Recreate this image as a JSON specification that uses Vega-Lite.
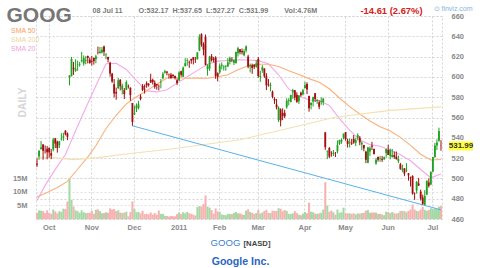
{
  "$schema": "https://vega.github.io/schema/vega-lite/v6.json",
  "width": 406,
  "height": 203,
  "autosize": {"type": "none"},
  "padding": {"left": 36, "top": 16, "right": 38, "bottom": 49},
  "config": {
    "font": "Liberation Sans",
    "view": {"stroke": "#d4d4d4", "strokeDash": [2, 2]},
    "axis": {"labelFont": "Liberation Sans", "titleFont": "Liberation Sans"},
    "legend": {"labelFont": "Liberation Sans"}
  },
  "datasets": {
    "px": [
      {"d":"2010-09-23","o":514.6,"h":519.7,"l":511.3,"c":513.5,"v":2.3},
      {"d":"2010-09-24","o":521.7,"h":527.8,"l":518.3,"c":527.3,"v":3.2},
      {"d":"2010-09-27","o":528.9,"h":536.9,"l":528.3,"c":530.4,"v":3.1},
      {"d":"2010-09-28","o":533.5,"h":533.6,"l":518.4,"c":527.2,"v":2.9},
      {"d":"2010-09-29","o":527.9,"h":532.5,"l":524.5,"c":527.7,"v":2.2},
      {"d":"2010-09-30","o":529.2,"h":531.9,"l":518.8,"c":525.8,"v":3.2},
      {"d":"2010-10-01","o":530.0,"h":530.6,"l":520.5,"c":525.6,"v":2.2},
      {"d":"2010-10-04","o":524.9,"h":528.9,"l":518.9,"c":522.4,"v":1.9},
      {"d":"2010-10-05","o":528.4,"h":540.0,"l":526.6,"c":538.2,"v":3.5},
      {"d":"2010-10-06","o":539.3,"h":539.9,"l":529.9,"c":534.4,"v":2.8},
      {"d":"2010-10-07","o":536.2,"h":537.2,"l":525.4,"c":530.0,"v":2.1},
      {"d":"2010-10-08","o":532.8,"h":537.0,"l":530.0,"c":536.4,"v":2.9},
      {"d":"2010-10-11","o":538.5,"h":544.6,"l":537.2,"c":538.8,"v":2.6},
      {"d":"2010-10-12","o":540.1,"h":545.0,"l":537.0,"c":541.4,"v":3.8},
      {"d":"2010-10-13","o":547.0,"h":547.5,"l":542.3,"c":543.3,"v":3.7},
      {"d":"2010-10-14","o":544.2,"h":545.3,"l":537.7,"c":540.9,"v":6.5},
      {"d":"2010-10-15","o":599.3,"h":601.6,"l":591.6,"c":601.5,"v":14.8},
      {"d":"2010-10-18","o":600.6,"h":619.7,"l":600.6,"c":617.7,"v":7.1},
      {"d":"2010-10-19","o":608.9,"h":614.8,"l":602.0,"c":607.8,"v":4.6},
      {"d":"2010-10-20","o":606.0,"h":617.4,"l":605.0,"c":608.0,"v":3.2},
      {"d":"2010-10-21","o":611.5,"h":616.0,"l":606.0,"c":612.0,"v":2.9},
      {"d":"2010-10-22","o":611.9,"h":614.8,"l":610.1,"c":612.5,"v":2.3},
      {"d":"2010-10-25","o":615.6,"h":624.7,"l":614.3,"c":616.5,"v":3.2},
      {"d":"2010-10-26","o":613.1,"h":621.2,"l":611.0,"c":618.6,"v":2.5},
      {"d":"2010-10-27","o":615.8,"h":620.4,"l":612.4,"c":616.5,"v":2.2},
      {"d":"2010-10-28","o":620.6,"h":621.0,"l":613.3,"c":618.6,"v":2.2},
      {"d":"2010-10-29","o":617.1,"h":619.0,"l":613.0,"c":613.7,"v":2.3},
      {"d":"2010-11-01","o":615.7,"h":620.7,"l":611.2,"c":615.0,"v":3.0},
      {"d":"2010-11-02","o":618.7,"h":619.0,"l":612.1,"c":615.6,"v":1.9},
      {"d":"2010-11-03","o":617.5,"h":621.8,"l":613.5,"c":620.2,"v":3.4},
      {"d":"2010-11-04","o":624.6,"h":629.9,"l":622.1,"c":624.3,"v":3.6},
      {"d":"2010-11-05","o":623.2,"h":629.5,"l":623.2,"c":625.1,"v":2.9},
      {"d":"2010-11-08","o":624.0,"h":629.5,"l":623.1,"c":626.8,"v":2.1},
      {"d":"2010-11-09","o":630.0,"h":630.9,"l":620.5,"c":624.8,"v":2.2},
      {"d":"2010-11-10","o":622.1,"h":623.0,"l":617.5,"c":622.9,"v":2.5},
      {"d":"2010-11-11","o":619.7,"h":619.9,"l":614.2,"c":617.2,"v":2.3},
      {"d":"2010-11-12","o":613.9,"h":615.0,"l":600.3,"c":603.3,"v":3.9},
      {"d":"2010-11-15","o":603.1,"h":604.0,"l":594.1,"c":595.5,"v":3.5},
      {"d":"2010-11-16","o":592.8,"h":597.9,"l":579.8,"c":583.7,"v":3.7},
      {"d":"2010-11-17","o":585.0,"h":589.5,"l":577.5,"c":583.6,"v":2.9},
      {"d":"2010-11-18","o":589.0,"h":599.0,"l":588.1,"c":596.6,"v":3.2},
      {"d":"2010-11-19","o":597.0,"h":597.9,"l":586.7,"c":590.8,"v":2.4},
      {"d":"2010-11-22","o":587.5,"h":593.4,"l":582.8,"c":591.2,"v":2.2},
      {"d":"2010-11-23","o":587.0,"h":589.0,"l":578.2,"c":583.0,"v":2.4},
      {"d":"2010-11-24","o":587.3,"h":596.6,"l":587.0,"c":595.0,"v":2.7},
      {"d":"2010-11-26","o":590.5,"h":592.5,"l":588.5,"c":590.0,"v":1.0},
      {"d":"2010-11-29","o":589.2,"h":589.8,"l":576.5,"c":582.1,"v":2.6},
      {"d":"2010-11-30","o":574.3,"h":574.3,"l":551.8,"c":555.7,"v":6.5},
      {"d":"2010-12-01","o":563.0,"h":571.6,"l":562.4,"c":564.4,"v":3.8},
      {"d":"2010-12-02","o":568.7,"h":573.9,"l":565.4,"c":571.8,"v":2.5},
      {"d":"2010-12-03","o":569.5,"h":576.5,"l":568.0,"c":573.0,"v":2.6},
      {"d":"2010-12-06","o":580.6,"h":582.9,"l":576.9,"c":578.4,"v":2.1},
      {"d":"2010-12-07","o":591.0,"h":593.0,"l":586.0,"c":587.1,"v":3.0},
      {"d":"2010-12-08","o":591.0,"h":592.5,"l":583.6,"c":590.5,"v":1.8},
      {"d":"2010-12-09","o":593.9,"h":595.6,"l":589.3,"c":591.5,"v":1.9},
      {"d":"2010-12-10","o":593.1,"h":593.9,"l":590.3,"c":592.2,"v":1.7},
      {"d":"2010-12-13","o":597.1,"h":603.1,"l":594.1,"c":594.6,"v":2.4},
      {"d":"2010-12-14","o":597.1,"h":598.3,"l":592.5,"c":594.9,"v":1.6},
      {"d":"2010-12-15","o":594.2,"h":596.5,"l":588.3,"c":590.3,"v":2.2},
      {"d":"2010-12-16","o":592.9,"h":593.0,"l":587.4,"c":591.7,"v":1.6},
      {"d":"2010-12-17","o":591.0,"h":592.6,"l":586.7,"c":590.8,"v":3.1},
      {"d":"2010-12-20","o":594.7,"h":597.9,"l":588.7,"c":595.1,"v":1.9},
      {"d":"2010-12-21","o":598.6,"h":604.7,"l":597.6,"c":603.1,"v":1.9},
      {"d":"2010-12-22","o":604.0,"h":607.0,"l":603.3,"c":605.5,"v":1.2},
      {"d":"2010-12-23","o":605.3,"h":605.5,"l":601.5,"c":604.2,"v":1.1},
      {"d":"2010-12-27","o":602.7,"h":603.3,"l":598.4,"c":602.4,"v":0.9},
      {"d":"2010-12-28","o":602.0,"h":603.9,"l":598.2,"c":598.9,"v":1.1},
      {"d":"2010-12-29","o":602.0,"h":602.4,"l":598.9,"c":601.0,"v":1.0},
      {"d":"2010-12-30","o":601.0,"h":601.3,"l":597.4,"c":598.9,"v":1.0},
      {"d":"2010-12-31","o":596.7,"h":598.4,"l":592.0,"c":594.0,"v":1.8},
      {"d":"2011-01-03","o":596.5,"h":605.6,"l":596.0,"c":604.4,"v":2.4},
      {"d":"2011-01-04","o":605.6,"h":606.2,"l":600.1,"c":602.1,"v":1.8},
      {"d":"2011-01-05","o":600.1,"h":610.3,"l":600.0,"c":609.1,"v":2.5},
      {"d":"2011-01-06","o":610.7,"h":618.4,"l":610.1,"c":613.5,"v":2.1},
      {"d":"2011-01-07","o":615.9,"h":618.3,"l":611.1,"c":616.4,"v":2.6},
      {"d":"2011-01-10","o":614.8,"h":616.0,"l":608.9,"c":614.2,"v":2.1},
      {"d":"2011-01-11","o":617.7,"h":618.0,"l":612.9,"c":616.0,"v":1.9},
      {"d":"2011-01-12","o":619.4,"h":619.5,"l":612.3,"c":616.9,"v":1.6},
      {"d":"2011-01-13","o":616.9,"h":619.7,"l":613.7,"c":616.7,"v":1.3},
      {"d":"2011-01-14","o":617.4,"h":624.3,"l":617.1,"c":624.2,"v":4.4},
      {"d":"2011-01-18","o":626.1,"h":642.0,"l":625.3,"c":639.6,"v":4.8},
      {"d":"2011-01-19","o":642.1,"h":643.0,"l":629.7,"c":631.8,"v":4.6},
      {"d":"2011-01-20","o":632.2,"h":634.1,"l":621.2,"c":626.8,"v":5.5},
      {"d":"2011-01-21","o":639.6,"h":641.7,"l":611.4,"c":611.8,"v":8.7},
      {"d":"2011-01-24","o":607.6,"h":612.5,"l":601.2,"c":611.1,"v":4.6},
      {"d":"2011-01-25","o":608.2,"h":620.7,"l":605.9,"c":619.9,"v":4.2},
      {"d":"2011-01-26","o":620.3,"h":622.5,"l":615.1,"c":616.5,"v":3.3},
      {"d":"2011-01-27","o":617.9,"h":619.7,"l":614.2,"c":616.8,"v":2.0},
      {"d":"2011-01-28","o":619.1,"h":620.4,"l":598.1,"c":601.0,"v":3.9},
      {"d":"2011-01-31","o":603.6,"h":604.5,"l":595.6,"c":600.4,"v":2.8},
      {"d":"2011-02-01","o":604.5,"h":613.3,"l":603.1,"c":611.0,"v":2.7},
      {"d":"2011-02-02","o":611.0,"h":614.3,"l":607.5,"c":612.0,"v":1.7},
      {"d":"2011-02-03","o":609.5,"h":611.5,"l":606.2,"c":610.2,"v":1.5},
      {"d":"2011-02-04","o":610.2,"h":611.4,"l":606.1,"c":611.0,"v":1.4},
      {"d":"2011-02-07","o":610.2,"h":618.7,"l":610.1,"c":614.3,"v":1.9},
      {"d":"2011-02-08","o":614.9,"h":620.0,"l":612.3,"c":618.4,"v":1.9},
      {"d":"2011-02-09","o":616.9,"h":619.5,"l":614.5,"c":616.5,"v":1.8},
      {"d":"2011-02-10","o":613.9,"h":617.5,"l":611.6,"c":616.4,"v":2.3},
      {"d":"2011-02-11","o":613.8,"h":625.0,"l":613.0,"c":624.5,"v":2.6},
      {"d":"2011-02-14","o":623.3,"h":629.6,"l":620.1,"c":628.2,"v":2.1},
      {"d":"2011-02-15","o":627.3,"h":627.5,"l":622.2,"c":624.2,"v":2.1},
      {"d":"2011-02-16","o":625.6,"h":628.0,"l":622.0,"c":624.2,"v":1.7},
      {"d":"2011-02-17","o":621.3,"h":627.3,"l":620.3,"c":625.3,"v":1.5},
      {"d":"2011-02-18","o":626.0,"h":631.0,"l":624.0,"c":630.1,"v":3.1},
      {"d":"2011-02-22","o":620.0,"h":621.8,"l":608.5,"c":610.2,"v":3.6},
      {"d":"2011-02-23","o":610.3,"h":613.1,"l":604.4,"c":611.3,"v":2.6},
      {"d":"2011-02-24","o":611.4,"h":613.1,"l":603.0,"c":608.8,"v":2.3},
      {"d":"2011-02-25","o":611.9,"h":612.5,"l":607.8,"c":610.0,"v":1.9},
      {"d":"2011-02-28","o":610.0,"h":616.5,"l":609.0,"c":613.4,"v":2.2},
      {"d":"2011-03-01","o":617.8,"h":619.5,"l":599.3,"c":600.8,"v":3.3},
      {"d":"2011-03-02","o":599.8,"h":606.0,"l":595.2,"c":600.8,"v":2.0},
      {"d":"2011-03-03","o":606.4,"h":611.5,"l":604.0,"c":609.6,"v":2.4},
      {"d":"2011-03-04","o":608.3,"h":608.4,"l":599.0,"c":600.6,"v":3.0},
      {"d":"2011-03-07","o":600.6,"h":603.7,"l":587.0,"c":591.7,"v":3.4},
      {"d":"2011-03-08","o":592.9,"h":597.9,"l":590.4,"c":592.3,"v":2.3},
      {"d":"2011-03-09","o":591.0,"h":594.5,"l":585.8,"c":591.8,"v":2.2},
      {"d":"2011-03-10","o":585.4,"h":586.6,"l":578.8,"c":580.3,"v":3.1},
      {"d":"2011-03-11","o":578.2,"h":580.0,"l":573.4,"c":576.7,"v":3.0},
      {"d":"2011-03-14","o":572.8,"h":578.3,"l":568.0,"c":570.0,"v":3.0},
      {"d":"2011-03-15","o":557.5,"h":571.0,"l":555.5,"c":569.6,"v":4.0},
      {"d":"2011-03-16","o":568.0,"h":569.0,"l":551.3,"c":557.1,"v":3.8},
      {"d":"2011-03-17","o":564.5,"h":569.0,"l":557.4,"c":561.4,"v":2.9},
      {"d":"2011-03-18","o":564.6,"h":567.6,"l":559.4,"c":561.1,"v":3.3},
      {"d":"2011-03-21","o":570.2,"h":579.0,"l":568.6,"c":576.5,"v":3.0},
      {"d":"2011-03-22","o":576.5,"h":579.0,"l":572.0,"c":577.3,"v":1.9},
      {"d":"2011-03-23","o":575.2,"h":582.5,"l":575.0,"c":582.2,"v":1.8},
      {"d":"2011-03-24","o":585.4,"h":588.3,"l":578.4,"c":586.9,"v":2.1},
      {"d":"2011-03-25","o":586.9,"h":586.9,"l":576.9,"c":579.7,"v":2.9},
      {"d":"2011-03-28","o":582.1,"h":584.9,"l":574.5,"c":575.4,"v":2.2},
      {"d":"2011-03-29","o":576.0,"h":581.9,"l":573.4,"c":581.7,"v":1.6},
      {"d":"2011-03-30","o":584.4,"h":585.5,"l":580.6,"c":581.8,"v":1.4},
      {"d":"2011-03-31","o":583.0,"h":588.2,"l":581.7,"c":586.8,"v":2.0},
      {"d":"2011-04-01","o":588.8,"h":595.2,"l":588.8,"c":591.8,"v":2.6},
      {"d":"2011-04-04","o":593.0,"h":594.7,"l":583.1,"c":587.7,"v":2.1},
      {"d":"2011-04-05","o":581.1,"h":581.5,"l":565.7,"c":569.1,"v":6.0},
      {"d":"2011-04-06","o":572.2,"h":575.2,"l":568.0,"c":574.2,"v":2.7},
      {"d":"2011-04-07","o":575.7,"h":580.6,"l":570.9,"c":580.0,"v":2.5},
      {"d":"2011-04-08","o":584.0,"h":584.0,"l":575.3,"c":578.2,"v":2.0},
      {"d":"2011-04-11","o":576.2,"h":578.1,"l":573.4,"c":577.4,"v":1.9},
      {"d":"2011-04-12","o":575.0,"h":576.9,"l":568.1,"c":570.6,"v":2.1},
      {"d":"2011-04-13","o":575.5,"h":579.9,"l":572.6,"c":576.3,"v":2.3},
      {"d":"2011-04-14","o":575.2,"h":579.4,"l":571.9,"c":578.5,"v":3.5},
      {"d":"2011-04-15","o":545.3,"h":545.8,"l":528.1,"c":530.7,"v":13.6},
      {"d":"2011-04-18","o":526.4,"h":527.7,"l":519.0,"c":526.8,"v":5.0},
      {"d":"2011-04-19","o":529.9,"h":530.9,"l":520.1,"c":521.5,"v":2.7},
      {"d":"2011-04-20","o":525.9,"h":526.8,"l":521.4,"c":525.7,"v":3.1},
      {"d":"2011-04-21","o":524.0,"h":528.0,"l":522.0,"c":525.1,"v":2.5},
      {"d":"2011-04-25","o":525.3,"h":526.0,"l":521.0,"c":525.1,"v":1.6},
      {"d":"2011-04-26","o":526.5,"h":537.4,"l":524.6,"c":532.8,"v":3.5},
      {"d":"2011-04-27","o":534.0,"h":538.1,"l":533.0,"c":537.8,"v":2.3},
      {"d":"2011-04-28","o":536.1,"h":539.3,"l":534.1,"c":538.0,"v":2.5},
      {"d":"2011-04-29","o":540.0,"h":544.1,"l":538.5,"c":544.1,"v":4.2},
      {"d":"2011-05-02","o":545.7,"h":545.7,"l":537.1,"c":538.6,"v":2.1},
      {"d":"2011-05-03","o":537.1,"h":539.3,"l":530.4,"c":533.9,"v":2.1},
      {"d":"2011-05-04","o":535.2,"h":539.2,"l":530.5,"c":535.8,"v":2.1},
      {"d":"2011-05-05","o":535.2,"h":539.0,"l":532.9,"c":534.3,"v":1.9},
      {"d":"2011-05-06","o":538.9,"h":542.7,"l":534.1,"c":535.3,"v":2.1},
      {"d":"2011-05-09","o":535.0,"h":540.0,"l":531.8,"c":537.7,"v":1.7},
      {"d":"2011-05-10","o":540.0,"h":544.4,"l":537.5,"c":542.7,"v":2.1},
      {"d":"2011-05-11","o":540.1,"h":541.8,"l":532.7,"c":535.5,"v":2.0},
      {"d":"2011-05-12","o":533.5,"h":536.4,"l":527.8,"c":535.1,"v":2.2},
      {"d":"2011-05-13","o":532.9,"h":533.0,"l":526.7,"c":529.6,"v":2.3},
      {"d":"2011-05-16","o":526.3,"h":527.3,"l":515.0,"c":518.4,"v":3.1},
      {"d":"2011-05-17","o":515.4,"h":531.2,"l":515.0,"c":530.5,"v":3.3},
      {"d":"2011-05-18","o":526.5,"h":531.5,"l":522.1,"c":529.8,"v":2.3},
      {"d":"2011-05-19","o":532.1,"h":536.0,"l":527.9,"c":531.3,"v":2.4},
      {"d":"2011-05-20","o":529.0,"h":529.4,"l":523.5,"c":524.0,"v":2.4},
      {"d":"2011-05-23","o":514.8,"h":520.2,"l":513.4,"c":518.4,"v":2.4},
      {"d":"2011-05-24","o":521.0,"h":521.6,"l":516.5,"c":518.3,"v":1.9},
      {"d":"2011-05-25","o":519.2,"h":522.0,"l":516.4,"c":519.7,"v":1.9},
      {"d":"2011-05-26","o":518.9,"h":522.2,"l":516.2,"c":518.1,"v":1.7},
      {"d":"2011-05-27","o":519.0,"h":521.5,"l":518.0,"c":520.9,"v":1.4},
      {"d":"2011-05-31","o":525.0,"h":529.1,"l":520.4,"c":529.0,"v":2.7},
      {"d":"2011-06-01","o":528.0,"h":533.2,"l":523.0,"c":523.1,"v":2.6},
      {"d":"2011-06-02","o":522.0,"h":529.4,"l":518.8,"c":528.1,"v":2.2},
      {"d":"2011-06-03","o":521.1,"h":529.0,"l":520.5,"c":523.1,"v":2.6},
      {"d":"2011-06-06","o":523.0,"h":526.4,"l":519.4,"c":521.1,"v":2.1},
      {"d":"2011-06-07","o":521.3,"h":526.5,"l":518.5,"c":519.0,"v":2.0},
      {"d":"2011-06-08","o":517.0,"h":522.4,"l":515.0,"c":519.2,"v":2.2},
      {"d":"2011-06-09","o":513.9,"h":515.3,"l":508.5,"c":509.4,"v":3.0},
      {"d":"2011-06-10","o":508.2,"h":513.5,"l":506.1,"c":509.5,"v":3.0},
      {"d":"2011-06-13","o":510.0,"h":510.0,"l":502.2,"c":504.7,"v":2.9},
      {"d":"2011-06-14","o":507.8,"h":515.0,"l":506.2,"c":508.4,"v":2.5},
      {"d":"2011-06-15","o":505.0,"h":505.3,"l":497.8,"c":503.0,"v":3.0},
      {"d":"2011-06-16","o":501.0,"h":501.8,"l":492.0,"c":500.4,"v":3.5},
      {"d":"2011-06-17","o":502.5,"h":503.0,"l":484.0,"c":485.0,"v":5.3},
      {"d":"2011-06-20","o":485.0,"h":486.2,"l":478.9,"c":484.6,"v":3.5},
      {"d":"2011-06-21","o":488.0,"h":497.5,"l":485.0,"c":496.5,"v":3.0},
      {"d":"2011-06-22","o":495.0,"h":500.5,"l":492.5,"c":493.0,"v":2.9},
      {"d":"2011-06-23","o":487.0,"h":489.0,"l":478.2,"c":480.2,"v":3.5},
      {"d":"2011-06-24","o":481.1,"h":484.0,"l":474.0,"c":474.9,"v":4.5},
      {"d":"2011-06-27","o":474.0,"h":488.4,"l":473.6,"c":482.8,"v":3.4},
      {"d":"2011-06-28","o":484.1,"h":498.0,"l":483.4,"c":497.7,"v":3.0},
      {"d":"2011-06-29","o":496.0,"h":500.0,"l":491.0,"c":492.7,"v":3.3},
      {"d":"2011-06-30","o":494.0,"h":506.9,"l":493.5,"c":506.4,"v":4.0},
      {"d":"2011-07-01","o":506.7,"h":521.0,"l":506.0,"c":521.0,"v":3.6},
      {"d":"2011-07-05","o":521.0,"h":535.0,"l":520.3,"c":532.4,"v":3.9},
      {"d":"2011-07-06","o":532.4,"h":538.5,"l":528.0,"c":535.4,"v":3.7},
      {"d":"2011-07-07","o":537.0,"h":550.0,"l":536.0,"c":546.6,"v":4.6},
      {"d":"2011-07-08","o":532.17,"h":537.65,"l":527.27,"c":531.99,"v":4.76}
    ],
    "sma": [
      {"d":"2010-09-23","k":"SMA 20","v":478.3},
      {"d":"2010-09-29","k":"SMA 20","v":493.1},
      {"d":"2010-10-06","k":"SMA 20","v":508.9},
      {"d":"2010-10-13","k":"SMA 20","v":523.6},
      {"d":"2010-10-20","k":"SMA 20","v":546.9},
      {"d":"2010-10-27","k":"SMA 20","v":569.4},
      {"d":"2010-11-03","k":"SMA 20","v":591.3},
      {"d":"2010-11-10","k":"SMA 20","v":613.0},
      {"d":"2010-11-17","k":"SMA 20","v":613.3},
      {"d":"2010-11-24","k":"SMA 20","v":607.3},
      {"d":"2010-12-02","k":"SMA 20","v":596.4},
      {"d":"2010-12-09","k":"SMA 20","v":586.2},
      {"d":"2010-12-16","k":"SMA 20","v":585.2},
      {"d":"2010-12-23","k":"SMA 20","v":587.3},
      {"d":"2010-12-31","k":"SMA 20","v":593.9},
      {"d":"2011-01-07","k":"SMA 20","v":600.2},
      {"d":"2011-01-14","k":"SMA 20","v":606.4},
      {"d":"2011-01-24","k":"SMA 20","v":612.5},
      {"d":"2011-01-31","k":"SMA 20","v":615.5},
      {"d":"2011-02-07","k":"SMA 20","v":616.1},
      {"d":"2011-02-14","k":"SMA 20","v":616.9},
      {"d":"2011-02-22","k":"SMA 20","v":616.6},
      {"d":"2011-03-01","k":"SMA 20","v":616.0},
      {"d":"2011-03-08","k":"SMA 20","v":612.9},
      {"d":"2011-03-15","k":"SMA 20","v":602.1},
      {"d":"2011-03-22","k":"SMA 20","v":588.1},
      {"d":"2011-03-29","k":"SMA 20","v":581.1},
      {"d":"2011-04-05","k":"SMA 20","v":577.2},
      {"d":"2011-04-12","k":"SMA 20","v":576.8},
      {"d":"2011-04-19","k":"SMA 20","v":571.9},
      {"d":"2011-04-27","k":"SMA 20","v":558.9},
      {"d":"2011-05-04","k":"SMA 20","v":547.6},
      {"d":"2011-05-11","k":"SMA 20","v":537.8},
      {"d":"2011-05-18","k":"SMA 20","v":533.3},
      {"d":"2011-05-25","k":"SMA 20","v":531.6},
      {"d":"2011-06-02","k":"SMA 20","v":528.0},
      {"d":"2011-06-09","k":"SMA 20","v":523.3},
      {"d":"2011-06-16","k":"SMA 20","v":517.4},
      {"d":"2011-06-23","k":"SMA 20","v":508.8},
      {"d":"2011-06-30","k":"SMA 20","v":500.6},
      {"d":"2011-07-08","k":"SMA 20","v":504.4},
      {"d":"2010-09-23","k":"SMA 50","v":481.7},
      {"d":"2010-09-30","k":"SMA 50","v":486.0},
      {"d":"2010-10-07","k":"SMA 50","v":491.0},
      {"d":"2010-10-14","k":"SMA 50","v":497.0},
      {"d":"2010-10-21","k":"SMA 50","v":509.0},
      {"d":"2010-10-28","k":"SMA 50","v":521.0},
      {"d":"2010-11-03","k":"SMA 50","v":532.1},
      {"d":"2010-11-10","k":"SMA 50","v":549.2},
      {"d":"2010-11-17","k":"SMA 50","v":562.2},
      {"d":"2010-11-24","k":"SMA 50","v":573.4},
      {"d":"2010-12-02","k":"SMA 50","v":580.5},
      {"d":"2010-12-09","k":"SMA 50","v":586.4},
      {"d":"2010-12-16","k":"SMA 50","v":592.7},
      {"d":"2010-12-23","k":"SMA 50","v":598.9},
      {"d":"2010-12-31","k":"SMA 50","v":599.3},
      {"d":"2011-01-07","k":"SMA 50","v":598.7},
      {"d":"2011-01-14","k":"SMA 50","v":598.8},
      {"d":"2011-01-24","k":"SMA 50","v":598.7},
      {"d":"2011-01-31","k":"SMA 50","v":600.2},
      {"d":"2011-02-07","k":"SMA 50","v":602.2},
      {"d":"2011-02-14","k":"SMA 50","v":607.0},
      {"d":"2011-02-22","k":"SMA 50","v":610.9},
      {"d":"2011-03-01","k":"SMA 50","v":612.5},
      {"d":"2011-03-08","k":"SMA 50","v":612.4},
      {"d":"2011-03-15","k":"SMA 50","v":610.3},
      {"d":"2011-03-22","k":"SMA 50","v":606.0},
      {"d":"2011-03-29","k":"SMA 50","v":602.4},
      {"d":"2011-04-05","k":"SMA 50","v":598.3},
      {"d":"2011-04-12","k":"SMA 50","v":594.8},
      {"d":"2011-04-19","k":"SMA 50","v":588.3},
      {"d":"2011-04-27","k":"SMA 50","v":579.2},
      {"d":"2011-05-04","k":"SMA 50","v":570.7},
      {"d":"2011-05-11","k":"SMA 50","v":563.5},
      {"d":"2011-05-18","k":"SMA 50","v":556.5},
      {"d":"2011-05-25","k":"SMA 50","v":551.0},
      {"d":"2011-06-02","k":"SMA 50","v":546.7},
      {"d":"2011-06-09","k":"SMA 50","v":540.4},
      {"d":"2011-06-16","k":"SMA 50","v":532.6},
      {"d":"2011-06-23","k":"SMA 50","v":523.8},
      {"d":"2011-06-30","k":"SMA 50","v":518.2},
      {"d":"2011-07-08","k":"SMA 50","v":518.6},
      {"d":"2010-09-23","k":"SMA 200","v":521.0},
      {"d":"2010-10-05","k":"SMA 200","v":520.5},
      {"d":"2010-10-19","k":"SMA 200","v":518.5},
      {"d":"2010-11-04","k":"SMA 200","v":520.5},
      {"d":"2010-11-29","k":"SMA 200","v":524.5},
      {"d":"2010-12-28","k":"SMA 200","v":529.0},
      {"d":"2011-02-15","k":"SMA 200","v":538.0},
      {"d":"2011-04-06","k":"SMA 200","v":554.5},
      {"d":"2011-04-21","k":"SMA 200","v":560.0},
      {"d":"2011-06-02","k":"SMA 200","v":567.0},
      {"d":"2011-07-08","k":"SMA 200","v":570.5}
    ],
    "trend": [
      {"d":"2010-11-30","v":551.8},
      {"d":"2011-07-08","v":469.0}
    ],
    "last": [
      {"d":"2011-07-08","v":531.99}
    ]
  },
  "layer": [
    {
      "data": {"name": "px"},
      "mark": {"type": "bar", "width": {"band": 1}},
      "encoding": {
        "x": {
          "field": "d", "type": "ordinal",
          "scale": {"type": "band", "paddingInner": 0, "paddingOuter": 0},
          "axis": {
            "orient": "bottom",
            "values": ["2010-10-01","2010-11-01","2010-12-01","2011-01-03","2011-02-01","2011-03-01","2011-04-01","2011-05-02","2011-06-01","2011-07-01"],
            "labelExpr": "['Oct','Nov','Dec','2011','Feb','Mar','Apr','May','Jun','Jul'][indexof(['2010-10-01','2010-11-01','2010-12-01','2011-01-03','2011-02-01','2011-03-01','2011-04-01','2011-05-02','2011-06-01','2011-07-01'], datum.value)]",
            "grid": true, "gridColor": "#d4d4d4", "gridDash": [2, 2],
            "domain": false, "ticks": false, "labelAngle": 0, "labelOverlap": false,
            "labelFontSize": 7.5, "labelFontWeight": "bold", "labelColor": "#8a8a8a", "labelPadding": 4,
            "title": "GOOG", "titleColor": "#3d7fd0", "titleFontSize": 9.6, "titleFontWeight": "normal",
            "titleX": 189, "titleY": 26.5, "titleAlign": "center", "titleBaseline": "alphabetic", "titleAngle": 0
          }
        },
        "y": {
          "field": "v", "type": "quantitative",
          "scale": {"domain": [0, 75], "nice": false, "zero": true},
          "axis": {
            "orient": "left", "values": [5, 10, 15], "labelExpr": "datum.value + 'M'",
            "grid": true, "gridColor": "#e2e2e2", "gridDash": [2, 2],
            "domain": false, "ticks": false,
            "labelFontSize": 7.5, "labelFontWeight": "bold", "labelColor": "#8a8a8a", "labelPadding": 9,
            "title": "DAILY", "titleColor": "#d6d6d6", "titleFontSize": 10.3, "titleFontWeight": "bold",
            "titleAngle": -90, "titleX": -13.5, "titleY": 86, "titleAlign": "center", "titleBaseline": "middle"
          }
        },
        "color": {
          "condition": {"test": "datum.c >= datum.o", "value": "#a3d9a3"},
          "value": "#f8b0b0"
        }
      }
    },
    {
      "data": {"name": "sma"},
      "mark": {"type": "line", "strokeWidth": 1.1},
      "encoding": {
        "x": {
          "field": "d", "type": "ordinal",
          "scale": {"type": "band", "paddingInner": 0, "paddingOuter": 0},
          "axis": {
            "orient": "top", "labels": false, "ticks": false, "domain": false, "grid": false,
            "title": "08 Jul 11\u00a0\u00a0\u00a0\u00a0\u00a0\u00a0\u00a0\u00a0O:532.17\u00a0\u00a0H:537.65\u00a0\u00a0L:527.27\u00a0\u00a0C:531.99\u00a0\u00a0\u00a0\u00a0\u00a0\u00a0\u00a0\u00a0Vol:4.76M",
            "titleColor": "#7a7a7a", "titleFontSize": 7.2, "titleFontWeight": "bold",
            "titleX": 56, "titleY": -3.7, "titleAlign": "left", "titleBaseline": "alphabetic", "titleAngle": 0
          }
        },
        "y": {
          "field": "v", "type": "quantitative",
          "scale": {"domain": [460, 660], "nice": false, "zero": false},
          "axis": null
        },
        "color": {
          "field": "k", "type": "nominal",
          "scale": {"domain": ["SMA 50", "SMA 200", "SMA 20"], "range": ["#fbb07a", "#f4e0b2", "#f3a9ea"]},
          "legend": {
            "orient": "none", "legendX": -32, "legendY": 11, "title": null, "padding": 0,
            "symbolSize": 0, "symbolStrokeWidth": 0, "symbolOpacity": 0, "labelOffset": 0,
            "labelFontSize": 7, "rowPadding": 1,
            "labelColor": {"expr": "datum.label == 'SMA 50' ? '#f7a262' : datum.label == 'SMA 200' ? '#edd7a0' : '#f0a2de'"}
          }
        }
      }
    },
    {
      "mark": {"type": "rule", "color": "#a09cf0", "strokeWidth": 1},
      "encoding": {
        "y": {"datum": 630.6, "type": "quantitative", "scale": {"domain": [460, 660], "nice": false, "zero": false}, "axis": null}
      }
    },
    {
      "data": {"name": "trend"},
      "mark": {"type": "line", "color": "#5ab2e8", "strokeWidth": 1},
      "encoding": {
        "x": {
          "field": "d", "type": "ordinal",
          "scale": {"type": "band", "paddingInner": 0, "paddingOuter": 0},
          "axis": {
            "orient": "top", "labels": false, "ticks": false, "domain": false, "grid": false,
            "title": "-14.61 (2.67%)", "titleColor": "#d42020", "titleFontSize": 9.4, "titleFontWeight": "bold",
            "titleX": 324, "titleY": -2.7, "titleAlign": "left", "titleBaseline": "alphabetic", "titleAngle": 0
          }
        },
        "y": {
          "field": "v", "type": "quantitative",
          "scale": {"domain": [460, 660], "nice": false, "zero": false},
          "axis": null
        }
      }
    },
    {
      "data": {"name": "px"},
      "mark": {"type": "rule", "strokeWidth": 1},
      "encoding": {
        "x": {
          "field": "d", "type": "ordinal",
          "scale": {"type": "band", "paddingInner": 0, "paddingOuter": 0},
          "axis": {
            "orient": "top", "labels": false, "ticks": false, "domain": false, "grid": false,
            "title": "\u2299 finviz.com", "titleColor": "#86b4e2", "titleFontSize": 7, "titleFontWeight": "normal",
            "titleX": 397, "titleY": -5.5, "titleAlign": "left", "titleBaseline": "alphabetic", "titleAngle": 0
          }
        },
        "y": {
          "field": "l", "type": "quantitative",
          "scale": {"domain": [460, 660], "nice": false, "zero": false},
          "axis": {
            "orient": "right", "values": [460, 480, 500, 520, 540, 560, 580, 600, 620, 640, 660],
            "grid": true, "gridColor": "#d4d4d4", "gridDash": [2, 2],
            "domain": false, "ticks": false, "labelFlush": false,
            "labelFontSize": 7.5, "labelFontWeight": "bold", "labelColor": "#8a8a8a", "labelPadding": 9,
            "title": null
          }
        },
        "y2": {"field": "h"},
        "color": {
          "condition": {"test": "datum.c >= datum.o", "value": "#1fa21f"},
          "value": "#a20d0d"
        }
      }
    },
    {
      "data": {"name": "px"},
      "mark": {"type": "bar", "width": {"band": 0.9}},
      "encoding": {
        "x": {
          "field": "d", "type": "ordinal",
          "scale": {"type": "band", "paddingInner": 0, "paddingOuter": 0},
          "axis": {
            "orient": "bottom", "labels": false, "ticks": false, "domain": false, "grid": false,
            "title": "[NASD]", "titleColor": "#444444", "titleFontSize": 7.7, "titleFontWeight": "bold",
            "titleX": 220.5, "titleY": 26.5, "titleAlign": "center", "titleBaseline": "alphabetic", "titleAngle": 0
          }
        },
        "y": {
          "field": "o", "type": "quantitative",
          "scale": {"domain": [460, 660], "nice": false, "zero": false},
          "axis": null
        },
        "y2": {"field": "c"},
        "color": {
          "condition": {"test": "datum.c >= datum.o", "value": "#1fa21f"},
          "value": "#a20d0d"
        }
      }
    },
    {
      "data": {"name": "last"},
      "mark": {"type": "point", "shape": "M-1,-0.38L1,-0.38L1,0.38L-1,0.38Z", "size": 576, "filled": true, "opacity": 1, "color": "#ffff3a", "strokeWidth": 0, "xOffset": 20},
      "encoding": {
        "x": {
          "field": "d", "type": "ordinal",
          "scale": {"type": "band", "paddingInner": 0, "paddingOuter": 0},
          "axis": {
            "orient": "bottom", "labels": false, "ticks": false, "domain": false, "grid": false,
            "title": "Google Inc.", "titleColor": "#2a66c2", "titleFontSize": 10.6, "titleFontWeight": "bold",
            "titleX": 204, "titleY": 45, "titleAlign": "center", "titleBaseline": "alphabetic", "titleAngle": 0
          }
        },
        "y": {
          "field": "v", "type": "quantitative",
          "scale": {"domain": [460, 660], "nice": false, "zero": false},
          "axis": null
        }
      }
    },
    {
      "data": {"name": "last"},
      "mark": {"type": "text", "xOffset": 20, "fontSize": 8, "fontWeight": "bold", "color": "#333333", "align": "center", "baseline": "middle"},
      "encoding": {
        "x": {
          "field": "d", "type": "ordinal",
          "scale": {"type": "band", "paddingInner": 0, "paddingOuter": 0},
          "axis": {
            "orient": "top", "labels": false, "ticks": false, "domain": false, "grid": false,
            "title": "GOOG", "titleColor": "#777777", "titleFontSize": 21, "titleFontWeight": "bold",
            "titleX": -30, "titleY": 5.7, "titleAlign": "left", "titleBaseline": "alphabetic", "titleAngle": 0
          }
        },
        "y": {
          "field": "v", "type": "quantitative",
          "scale": {"domain": [460, 660], "nice": false, "zero": false},
          "axis": null
        },
        "text": {"field": "v", "type": "quantitative", "format": ".2f"}
      }
    }
  ],
  "resolve": {
    "scale": {"y": "independent"},
    "axis": {"x": "independent", "y": "independent"}
  }
}
